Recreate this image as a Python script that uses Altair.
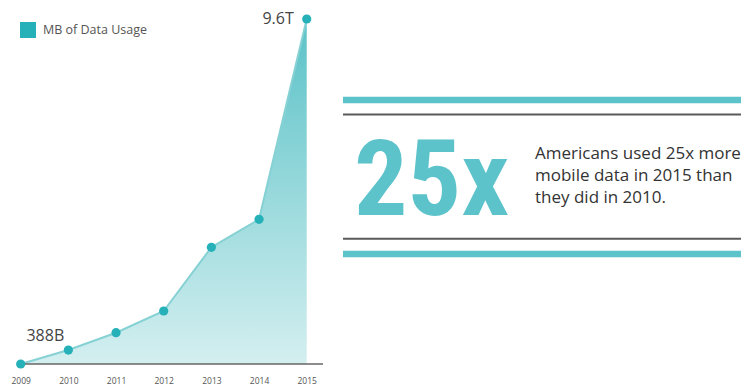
import altair as alt
import pandas as pd

years = [2009, 2010, 2011, 2012, 2013, 2014, 2015]
usage_billions_mb = [0, 388, 871, 1475, 3247, 4026, 9600]
point_labels = ["", "388B", "", "", "", "", "9.6T"]
series_name = "MB of Data Usage"
headline = "25x"
blurb = ["Americans used 25x more", "mobile data in 2015 than", "they did in 2010."]

df = pd.DataFrame({
    "year": years,
    "value": usage_billions_mb,
    "label": point_labels,
    "series": [series_name] * len(years),
})
one = pd.DataFrame({"k": [0]})

TEAL = "#5cc3cb"
FONT = "Open Sans"

x = alt.X(
    "year:Q",
    scale=alt.Scale(domain=[2008.566, 2024.11], nice=False, zero=False),
    axis=alt.Axis(values=years, format="d", title=None, domain=False, ticks=False,
                  grid=False, labelPadding=12, labelFontSize=8.5, labelColor="#555555",
                  labelFont=FONT, labelFlush=False),
)
y = alt.Y("value:Q", scale=alt.Scale(domain=[0, 10129], nice=False), axis=None)

base = alt.Chart(df)

area = base.mark_area(
    color=alt.Gradient(
        gradient="linear",
        stops=[alt.GradientStop(color="#d4eff0", offset=0),
               alt.GradientStop(color="#5ac2c7", offset=1)],
        x1=1, x2=1, y1=1, y2=0,
    )
).encode(x=x, y=y)

line = base.mark_line(color="#86d1d4", strokeWidth=2).encode(x=x, y=y)

baseline = alt.Chart(one).mark_rule(color="#666666", strokeWidth=1.5).encode(
    x=alt.value(21), x2=alt.value(323), y=alt.value(364)
)

points = base.mark_circle(size=85, opacity=1).encode(
    x=x, y=y,
    color=alt.Color(
        "series:N",
        scale=alt.Scale(range=["#26b1b9"]),
        legend=alt.Legend(orient="none", legendX=20, legendY=22, title=None,
                          symbolType="square", symbolSize=256, symbolFillColor="#4fc0c6",
                          symbolStrokeWidth=0, labelFontSize=12.5, labelColor="#555555",
                          labelFont=FONT, labelOffset=7, padding=0),
    ),
)

lbl_2010 = base.transform_filter(alt.datum.label == "388B").mark_text(
    font=FONT, fontSize=16, color="#444444", align="center", baseline="middle", dx=-23, dy=-14
).encode(x=x, y=y, text="label:N")

lbl_2015 = base.transform_filter(alt.datum.label == "9.6T").mark_text(
    font=FONT, fontSize=16, color="#444444", align="right", baseline="middle", dx=-13
).encode(x=x, y=y, text="label:N")

def hrule(ypix, color, width):
    return alt.Chart(one).mark_rule(color=color, strokeWidth=width).encode(
        x=alt.value(343), x2=alt.value(741), y=alt.value(ypix)
    )

deco = [
    hrule(100, TEAL, 6.6),
    hrule(114.5, "#5a5a5a", 2),
    hrule(238.7, "#5a5a5a", 2),
    hrule(254, TEAL, 6.6),
]

big = alt.Chart(one).mark_text(
    font="'Roboto Condensed', 'Liberation Sans Narrow', 'DejaVu Sans Condensed', sans-serif",
    fontWeight="bold", fontSize=106, color=TEAL,
    align="left", baseline="alphabetic"
).encode(x=alt.value(354), y=alt.value(215), text=alt.value(headline))

para = alt.Chart(one).mark_text(
    font=FONT, fontSize=17, color="#333333", align="left", baseline="alphabetic",
    lineHeight=22, lineBreak="\n"
).encode(x=alt.value(535), y=alt.value(159), text=alt.value("\n".join(blurb)))

chart = alt.layer(area, line, baseline, points, lbl_2010, lbl_2015, *deco, big, para).properties(
    width=741, height=364,
    autosize=alt.AutoSizeParams(type="none"),
    padding={"left": 0, "top": 0, "right": 0, "bottom": 24},
    background="white",
).configure_view(stroke=None)

chart.save("out.html", embed_options={"renderer": "svg", "actions": False})
